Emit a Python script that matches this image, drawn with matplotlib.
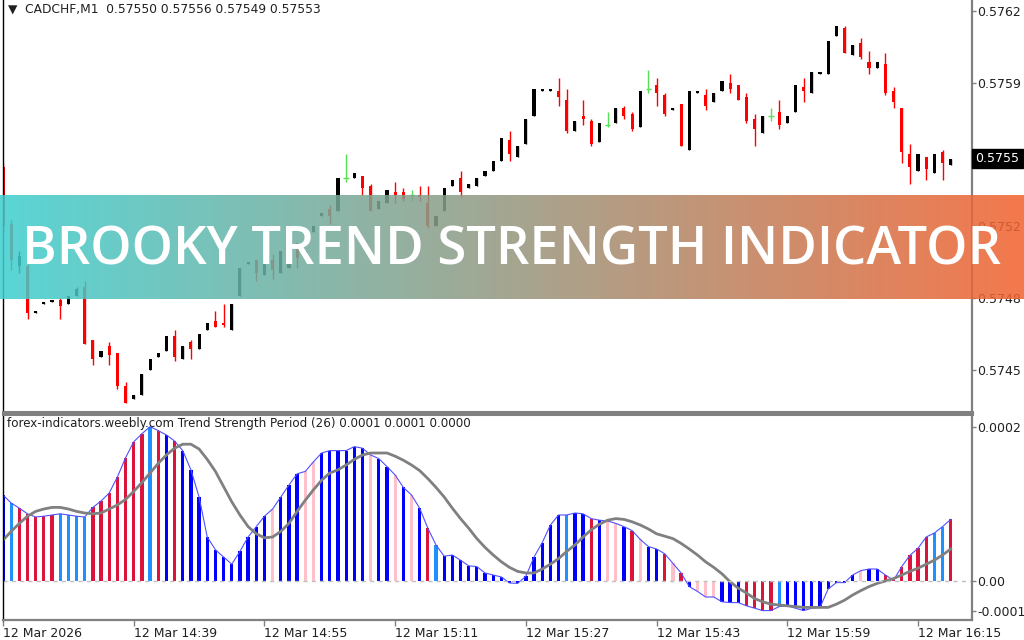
import matplotlib.pyplot as plt
import matplotlib.transforms as mtransforms
import numpy as np
from matplotlib.colors import LinearSegmentedColormap

# CADCHF M1 candles, prices in points (1e-5)
opens = [57546, 57519, 57499, 57499, 57477, 57481, 57482, 57483, 57481, 57485,
         57489, 57464, 57456, 57461, 57458, 57442, 57436, 57438, 57450, 57456,
         57459, 57466, 57455, 57463, 57460, 57469, 57473, 57472, 57469, 57485,
         57500, 57502, 57495, 57502, 57496, 57498, 57510, 57502, 57515, 57523,
         57526, 57525, 57541, 57541, 57542, 57537, 57526, 57529, 57534, 57534,
         57533, 57533, 57529, 57518, 57525, 57537, 57541, 57536, 57537, 57542,
         57544, 57549, 57559, 57551, 57557, 57570, 57582, 57582, 57582, 57578,
         57563, 57570, 57568, 57558, 57566, 57567, 57574, 57571, 57565, 57583,
         57585, 57580, 57573, 57576, 57554, 57581, 57580, 57577, 57582, 57586,
         57585, 57579, 57569, 57562, 57570, 57572, 57567, 57572, 57584, 57581,
         57590, 57590, 57608, 57612, 57599, 57605, 57596, 57593, 57595, 57582,
         57574, 57552, 57544, 57551, 57543, 57553, 57547]
highs = [57548, 57521, 57506, 57500, 57478, 57482, 57483, 57484, 57485, 57489,
         57492, 57464, 57459, 57463, 57458, 57444, 57438, 57448, 57455, 57458,
         57466, 57469, 57461, 57464, 57467, 57472, 57478, 57481, 57481, 57498,
         57501, 57502, 57503, 57505, 57506, 57502, 57510, 57506, 57518, 57524,
         57528, 57541, 57552, 57543, 57542, 57538, 57530, 57535, 57539, 57536,
         57535, 57537, 57537, 57523, 57536, 57540, 57544, 57538, 57541, 57544,
         57549, 57560, 57563, 57556, 57569, 57583, 57583, 57583, 57588, 57583,
         57568, 57578, 57569, 57567, 57572, 57574, 57575, 57572, 57582, 57592,
         57588, 57581, 57574, 57576, 57582, 57582, 57583, 57581, 57587, 57590,
         57585, 57581, 57571, 57570, 57574, 57578, 57570, 57585, 57588, 57591,
         57591, 57606, 57613, 57613, 57604, 57607, 57601, 57596, 57600, 57584,
         57574, 57557, 57552, 57551, 57552, 57554, 57550]
lows = [57515, 57497, 57496, 57474, 57477, 57481, 57482, 57474, 57481, 57485,
        57462, 57452, 57456, 57452, 57441, 57434, 57436, 57438, 57450, 57456,
        57459, 57454, 57455, 57455, 57460, 57469, 57470, 57470, 57469, 57485,
        57500, 57492, 57495, 57493, 57496, 57498, 57498, 57502, 57515, 57523,
        57519, 57525, 57539, 57541, 57533, 57525, 57526, 57529, 57529, 57530,
        57530, 57530, 57517, 57518, 57525, 57537, 57532, 57536, 57537, 57542,
        57544, 57549, 57549, 57551, 57557, 57570, 57582, 57582, 57575, 57562,
        57563, 57566, 57556, 57558, 57565, 57567, 57569, 57563, 57565, 57581,
        57575, 57570, 57573, 57556, 57554, 57581, 57573, 57577, 57582, 57581,
        57578, 57567, 57556, 57562, 57568, 57564, 57567, 57572, 57577, 57581,
        57590, 57590, 57608, 57600, 57599, 57597, 57590, 57593, 57580, 57574,
        57548, 57538, 57544, 57540, 57543, 57540, 57547]
closes = [57518, 57502, 57504, 57477, 57478, 57482, 57483, 57480, 57485, 57488,
          57462, 57455, 57459, 57457, 57442, 57434, 57438, 57448, 57455, 57458,
          57466, 57456, 57461, 57460, 57467, 57472, 57470, 57471, 57481, 57498,
          57501, 57496, 57503, 57497, 57506, 57502, 57503, 57506, 57518, 57524,
          57523, 57541, 57541, 57543, 57536, 57525, 57530, 57535, 57533, 57531,
          57533, 57532, 57518, 57523, 57536, 57540, 57534, 57538, 57541, 57544,
          57549, 57560, 57552, 57556, 57569, 57583, 57583, 57583, 57579, 57563,
          57568, 57569, 57557, 57567, 57566, 57574, 57570, 57564, 57582, 57583,
          57581, 57571, 57574, 57556, 57582, 57582, 57575, 57581, 57587, 57583,
          57578, 57568, 57564, 57570, 57570, 57566, 57570, 57585, 57582, 57591,
          57591, 57606, 57613, 57600, 57604, 57598, 57593, 57596, 57581, 57577,
          57553, 57546, 57552, 57545, 57552, 57548, 57550]

# Trend Strength histogram and its signal line (units of 1e-5)
hist = [10.75, 9.75, 9.1, 8.4, 8.0, 8.1, 8.25, 8.4, 8.25, 8.1,
        8.0, 9.2, 10.0, 11.0, 13.0, 15.4, 17.4, 18.4, 19.3, 18.8,
        18.25, 17.5, 16.3, 13.9, 10.5, 5.5, 3.9, 3.0, 2.1, 3.7,
        5.5, 6.8, 8.1, 9.0, 10.5, 12.0, 13.4, 13.7, 14.9, 16.0,
        16.3, 16.3, 16.3, 16.8, 16.6, 15.75, 15.3, 14.3, 13.25, 11.7,
        10.75, 9.1, 6.6, 4.5, 3.1, 3.25, 2.6, 1.9, 1.8, 1.0,
        0.75, 0.5, -0.25, -0.3, 0.6, 3.0, 4.8, 7.0, 8.25, 8.25,
        8.5, 8.4, 7.8, 7.6, 7.5, 7.2, 6.8, 6.3, 5.2, 4.3,
        4.0, 3.4, 2.2, 1.0, -0.7, -1.3, -2.0, -2.0, -2.6, -2.7,
        -2.7, -3.1, -3.4, -3.7, -3.7, -3.2, -3.1, -3.4, -3.7, -3.4,
        -3.3, -1.0, -0.2, -0.2, 0.75, 1.3, 1.5, 1.5, 0.75, 0.1,
        1.8, 3.2, 4.1, 5.5, 6.0, 6.8, 7.7]
hist_kind = list('bl' 'rrrrr' 'llll' 'rrrrrrr' 'l' 'r' 'b' 'r' 'bbbbbbbbbbb' 'p'
                 'bbb' 'pp' 'bbbbbb' 'p' 'bb' 'p' 'b' 'p' 'b' 'r' 'l'
                 'bbbbbbbbbbbbbbb' 'l' 'bb' 'r' 'b' 'pp' 'b' 'r' 'p' 'bb' 'r'
                 'p' 'r' 'b' 'ppp' 'bbb' 'rrrr' 'l' 'bbbbbbbbb' 'p' 'bb'
                 'rrrrrr' 'll' 'r')
signal = [5.1, 6.2, 7.2, 8.1, 8.7, 9.0, 9.2, 9.2, 9.0, 8.7,
          8.5, 8.4, 8.5, 9.0, 9.5, 10.2, 11.2, 12.3, 13.5, 14.7,
          15.75, 16.6, 17.1, 17.1, 16.5, 15.2, 13.7, 11.8, 9.9, 8.25,
          6.8, 5.9, 5.4, 5.5, 6.2, 7.2, 8.7, 10.1, 11.4, 12.6,
          13.5, 13.9, 14.5, 15.2, 15.75, 16.0, 16.0, 16.0, 15.6, 15.1,
          14.5, 13.8, 12.8, 11.7, 10.5, 9.1, 7.8, 6.6, 5.3, 4.2,
          3.25, 2.4, 1.7, 1.2, 1.0, 1.0, 1.5, 2.1, 2.8, 3.7,
          4.5, 5.5, 6.4, 7.1, 7.6, 7.8, 7.7, 7.4, 7.0, 6.5,
          5.9, 5.6, 5.3, 4.7, 4.0, 3.25, 2.4, 1.7, 0.9, -0.1,
          -0.9, -1.5, -2.2, -2.6, -2.9, -3.0, -3.1, -3.2, -3.3, -3.3,
          -3.3, -3.3, -2.9, -2.4, -1.75, -1.2, -0.7, -0.3, 0.0, 0.3,
          0.75, 1.2, 1.6, 2.1, 2.6, 3.25, 4.0]

time_ticks = [0, 16, 32, 48, 64, 80, 96, 112]
time_labels = ['12 Mar 2026', '12 Mar 14:39', '12 Mar 14:55', '12 Mar 15:11',
               '12 Mar 15:27', '12 Mar 15:43', '12 Mar 15:59', '12 Mar 16:15']
price_ticks = [0.57450, 0.57484, 0.57518, 0.57586, 0.57620]
ind_ticks = [0.0001925, 0.0, -0.0000375]
ind_labels = ['0.0002', '0.00', '-0.0001']
kind_colors = {'r': '#DC143C', 'l': '#1E90FF', 'b': '#0000FF', 'p': '#FFC0CB'}

plt.rcParams['font.family'] = 'DejaVu Sans'
W, H = 1024, 640
fig = plt.figure(figsize=(W / 100, H / 100), dpi=100)

x_left, x_right = 2.5, 972
ax = fig.add_axes([x_left / W, 1 - 412 / H, (x_right - x_left) / W, 412 / H])
ax2 = fig.add_axes([x_left / W, 1 - 620 / H, (x_right - x_left) / W, 206 / H])

o = np.array(opens) / 1e5
h = np.array(highs) / 1e5
l = np.array(lows) / 1e5
c = np.array(closes) / 1e5
idx = np.arange(len(o))
bull = c > o
bear = c < o
doji = c == o

# candles
ax.vlines(idx[bull], l[bull], h[bull], color='black', lw=1)
ax.bar(idx[bull], (c - o)[bull], bottom=o[bull], width=0.38, color='black')
ax.vlines(idx[bear], l[bear], h[bear], color='#FF0000', lw=1)
ax.bar(idx[bear], (o - c)[bear], bottom=c[bear], width=0.38, color='#FF0000')
ax.vlines(idx[doji], l[doji], h[doji], color='#55E055', lw=1)
ax.hlines(o[doji], idx[doji] - 0.35, idx[doji] + 0.35, color='#55E055', lw=1)

xlim = ((x_left - 3) / 8.17, (x_right - 3) / 8.17)
ax.set_xlim(*xlim)
ax.set_ylim(0.574299, 0.576252)
ax.set_xticks([])
ax.yaxis.tick_right()
ax.set_yticks(price_ticks)
ax.set_yticklabels([f'{p:.4f}' for p in price_ticks])

# current price box
trans = mtransforms.blended_transform_factory(ax.transAxes, ax.transData)
ax.text(1.0035, c[-1], f'{c[-1]:.4f}', transform=trans, color='white', fontsize=9,
        va='center', ha='left', clip_on=False,
        bbox=dict(boxstyle='square,pad=0.25', fc='black', ec='black'))

ax.text(0.006, 0.995, '\u25bc  CADCHF,M1  0.57550 0.57556 0.57549 0.57553',
        transform=ax.transAxes, fontsize=8.8, color='#202020', va='top', ha='left')

# indicator
ax2.bar(idx, np.array(hist) / 1e5, width=0.4,
        color=[kind_colors[k] for k in hist_kind])
ax2.plot(idx, np.array(hist) / 1e5, color='#5050FF', lw=0.8)
ax2.plot(idx, np.array(signal) / 1e5, color='#808080', lw=2)
ax2.axhline(0, color='#C0C0C0', lw=1, ls=(0, (3, 3)))
ax2.set_xlim(*xlim)
ax2.set_ylim(-4.875e-5, 20.875e-5)
ax2.yaxis.tick_right()
ax2.set_yticks(ind_ticks)
ax2.set_yticklabels(ind_labels)
ax2.set_xticks(time_ticks)
ax2.set_xticklabels(time_labels, ha='left')
ax2.text(0.005, 0.985,
         'forex-indicators.weebly.com Trend Strength Period (26) 0.0001 0.0001 0.0000',
         transform=ax2.transAxes, fontsize=8.6, color='#202020', va='top', ha='left')

for a in (ax, ax2):
    a.spines['left'].set_color('black')
    a.spines['left'].set_linewidth(1)
    for s in ('right', 'top', 'bottom'):
        a.spines[s].set_color('#808080')
        a.spines[s].set_linewidth(1.6)
    a.tick_params(axis='both', colors='#808080', labelcolor='#202020',
                  labelsize=9, length=3, width=1, pad=1)
ax.spines['top'].set_visible(False)
ax.spines['bottom'].set_linewidth(2.2)
ax2.spines['top'].set_linewidth(2.2)
ax2.tick_params(axis='x', length=4, pad=1)

# banner
bx = fig.add_axes([0, 1 - 299 / H, 1, 104 / H])
bx.set_zorder(10)
cmap = LinearSegmentedColormap.from_list('banner', ['#3ECFCF', '#96977F', '#F2622F'])
bx.imshow(np.linspace(0, 1, 512).reshape(1, -1), aspect='auto', cmap=cmap,
          alpha=0.86, extent=(0, 1, 0, 1))
bx.set_xlim(0, 1)
bx.set_ylim(0, 1)
bx.axis('off')
title = bx.text(0.5, 0.327, 'BROOKY TREND STRENGTH INDICATOR', color='white',
                fontsize=40, family='Open Sans', fontweight='semibold',
                ha='center', va='baseline')
fig.canvas.draw()
bb = title.get_window_extent()
title.set_fontsize(40 * 977 / bb.width)

fig.savefig('out.png', dpi=100)
